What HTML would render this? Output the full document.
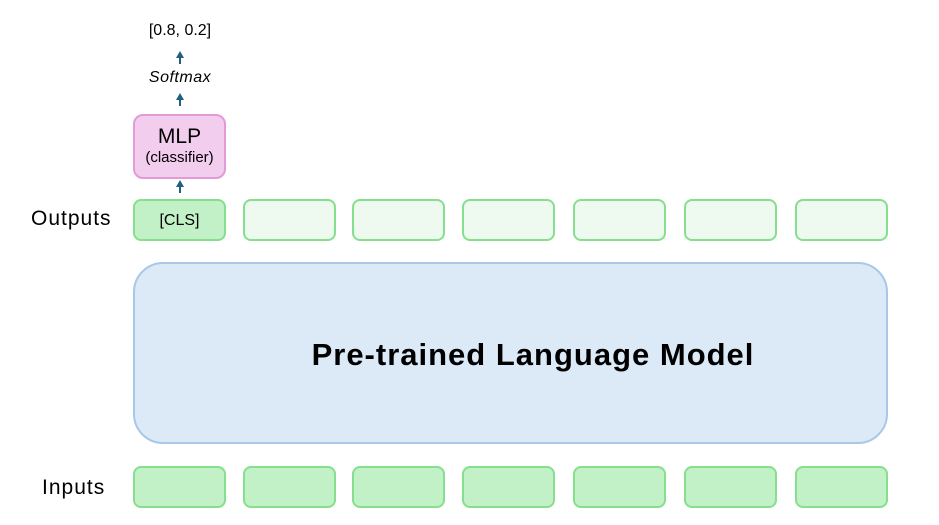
<!DOCTYPE html>
<html><head><style>
body{margin:0;width:939px;height:525px;background:#fff;position:relative;font-family:"Liberation Sans","Noto Sans CJK KR",sans-serif;overflow:hidden}
.b{position:absolute;box-sizing:border-box;border:2px solid #86df8c;border-radius:8px;width:93px;height:42px}
.o{top:199px;background:#eef9ef}
.i{top:466px;background:#c2f0c7}
.t{position:absolute;font-size:21px;color:#000}
</style></head><body>
<div class="t" style="left:31px;top:207px;letter-spacing:1px">Outputs</div>
<div class="t" style="left:42px;top:476px;letter-spacing:1px">Inputs</div>
<div class="b o" style="left:133px;background:#c2f0c7;text-align:center;line-height:40px;font-size:16px">[CLS]</div>
<div class="b o" style="left:243px"></div>
<div class="b o" style="left:352px"></div>
<div class="b o" style="left:462px"></div>
<div class="b o" style="left:573px"></div>
<div class="b o" style="left:684px"></div>
<div class="b o" style="left:795px"></div>
<div class="b i" style="left:133px"></div>
<div class="b i" style="left:243px"></div>
<div class="b i" style="left:352px"></div>
<div class="b i" style="left:462px"></div>
<div class="b i" style="left:573px"></div>
<div class="b i" style="left:684px"></div>
<div class="b i" style="left:795px"></div>
<div style="position:absolute;left:133px;top:262px;width:755px;height:182px;box-sizing:border-box;border:2px solid #a8c8e8;border-radius:30px;background:#dce9f6"></div>
<div style="position:absolute;left:133px;top:264px;width:800px;height:182px;line-height:182px;text-align:center;font-size:31px;font-weight:bold;letter-spacing:1px">Pre-trained Language Model</div>
<div style="position:absolute;left:133px;top:114px;width:93px;height:65px;box-sizing:border-box;border:2px solid #e39ad9;border-radius:10px;background:#f2cdee;text-align:center">
<div style="font-size:21px;margin-top:9px;line-height:24px">MLP</div>
<div style="font-size:15px;line-height:18px">(classifier)</div></div>
<div class="t" style="left:0;width:360px;text-align:center;top:22px;font-size:16px">[0.8, 0.2]</div>
<div class="t" style="left:0;width:360px;text-align:center;top:69px;font-size:16px;font-style:italic;letter-spacing:0.5px">Softmax</div>
<svg style="position:absolute;left:0;top:0" width="939" height="525">
<g stroke="#1f5f7f" stroke-width="2" fill="#1f5f7f">
<line x1="180" y1="64" x2="180" y2="56"/><polygon points="176,58 184,58 180,51" stroke="none"/>
<line x1="180" y1="106" x2="180" y2="98"/><polygon points="176,100 184,100 180,93" stroke="none"/>
<line x1="180" y1="193" x2="180" y2="185"/><polygon points="176,187 184,187 180,180" stroke="none"/>
</g></svg>
</body></html>
